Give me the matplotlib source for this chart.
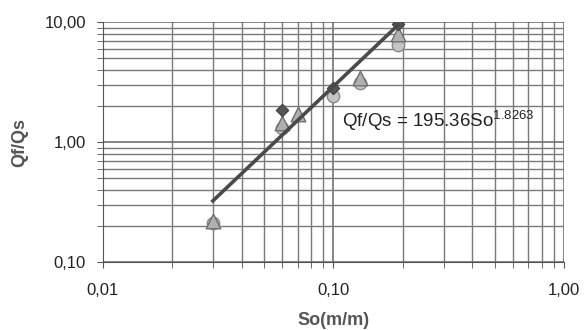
import matplotlib.pyplot as plt, numpy as np
from matplotlib.ticker import FixedLocator, FuncFormatter, LogLocator, NullFormatter

plt.rcParams['font.family'] = ['Liberation Sans', 'DejaVu Sans']
plt.rcParams['mathtext.fontset'] = 'custom'
plt.rcParams['mathtext.rm'] = 'Liberation Sans'

# data
so_diamond = [0.06, 0.10, 0.19]
q_diamond = [1.85, 2.8, 9.6]
so_triangle = [0.03, 0.06, 0.07, 0.13, 0.19]
q_triangle = [0.22, 1.45, 1.7, 3.4, 8.0]
so_circle = [0.03, 0.06, 0.10, 0.13, 0.19]
q_circle = [0.21, 1.3, 2.4, 3.1, 6.4]

# power trend line
coef = 195.36
expo = 1.8263
so_fit = [0.03, 0.19]

fig = plt.figure(figsize=(5.84, 3.3), dpi=100)
ax = fig.add_axes([0.176, 0.206, 0.79, 0.727])
ax.set_xscale('log')
ax.set_yscale('log')
ax.set_xlim(0.01, 1.0)
ax.set_ylim(0.1, 10.0)

ax.grid(True, which='major', color='#666666', lw=1.1)
ax.grid(True, which='minor', color='#7a7a7a', lw=1.0)
ax.set_axisbelow(True)

ax.scatter(so_circle, q_circle, marker='o', s=80, color='#c4c4c4', edgecolors='#8a8a8a', lw=1, zorder=3)
ax.scatter(so_triangle, q_triangle, marker='^', s=110, color='#b0b0b0', edgecolors='#6f6f6f', lw=1, zorder=3)
ax.scatter(so_diamond, q_diamond, marker='D', s=38, color='#555555', edgecolors='#444444', lw=1, zorder=4)

xs = np.array(so_fit)
ax.plot(xs, coef * xs ** expo, color='#4a4a4a', lw=2.6, zorder=5)

ax.text(0.1094, 1.5, 'Qf/Qs = 195.36So$^{\\mathrm{1.8263}}$', fontsize=13.5, color='#222222',
        va='center', zorder=6)

fmt = FuncFormatter(lambda v, p: f'{v:.2f}'.replace('.', ','))
ax.xaxis.set_major_locator(FixedLocator([0.01, 0.1, 1.0]))
ax.yaxis.set_major_locator(FixedLocator([0.1, 1.0, 10.0]))
ax.xaxis.set_major_formatter(fmt)
ax.yaxis.set_major_formatter(fmt)
ax.xaxis.set_minor_locator(LogLocator(base=10, subs=np.arange(2, 10)))
ax.yaxis.set_minor_locator(LogLocator(base=10, subs=np.arange(2, 10)))
ax.xaxis.set_minor_formatter(NullFormatter())
ax.yaxis.set_minor_formatter(NullFormatter())
ax.tick_params(which='both', direction='out', length=4, color='#555555', labelsize=12, labelcolor='#222222')
ax.tick_params(axis='y', pad=8)
ax.tick_params(axis='x', pad=11)

for s in ['top', 'right']:
    ax.spines[s].set_visible(False)
for s in ['left', 'bottom']:
    ax.spines[s].set_color('#555555')

ax.set_xlabel('So(m/m)', fontsize=13, fontweight='bold', color='#555555', labelpad=10)
ax.set_ylabel('Qf/Qs', fontsize=13, fontweight='bold', color='#555555', labelpad=12)

fig.savefig('out.png', dpi=100)
